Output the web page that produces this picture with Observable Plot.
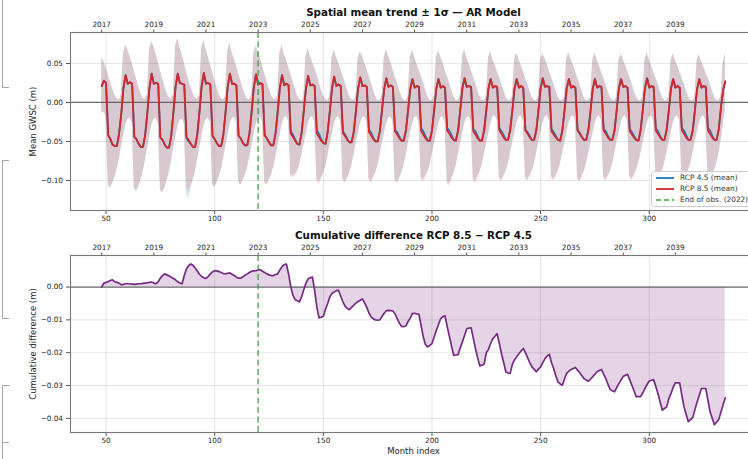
<!DOCTYPE html>
<html><head><meta charset="utf-8">
<script src="https://cdn.jsdelivr.net/npm/d3@7"></script>
<script src="https://cdn.jsdelivr.net/npm/@observablehq/plot@0.6"></script>
<style>
html,body{margin:0;padding:0;background:#fff;overflow:hidden;}
#wrap{position:relative;width:748px;height:459px;overflow:hidden;font-family:"DejaVu Sans",sans-serif;background:#fff;}
#top,#bot{position:absolute;left:0;width:757px;}
#top{top:0;} #bot{top:224px;}
#legend{position:absolute;left:651px;top:171px;width:110px;height:36px;background:rgba(255,255,255,0.85);border:1px solid #cfcfcf;border-radius:3px;box-sizing:border-box;}
.lrow{position:absolute;left:3px;height:10px;font-size:7.4px;color:#333;white-space:nowrap;line-height:10px;}
.lrow svg{position:absolute;left:0;top:0;}
.lrow span{position:absolute;left:25px;top:0;}
.art{position:absolute;border-color:#a8a8a8;border-style:solid;border-width:0;}
</style></head><body>
<div id="wrap">
  <div id="top"></div>
  <div id="bot"></div>
  <div id="legend"></div>
  <div class="art" style="left:2px;top:-3px;width:6px;height:90px;border-left-width:1.5px;border-bottom-width:1.5px;"></div>
  <div class="art" style="left:2px;top:160px;width:6px;height:157px;border-left-width:1.5px;border-top-width:1.5px;border-bottom-width:1.5px;"></div>
  <div class="art" style="left:2px;top:385px;width:7px;height:80px;border-left-width:1.5px;border-top-width:1.5px;"></div>
  <div class="art" style="left:2px;top:442px;width:7px;height:0;border-top-width:1.5px;"></div>
</div>
<script>
// ---------- data ----------
const firstMonth = 48;
const obsEndMonth = 120;
const xTicks = [50, 100, 150, 200, 250, 300];
const yearLabels = [2017, 2019, 2021, 2023, 2025, 2027, 2029, 2031, 2033, 2035, 2037, 2039];
const yearTickMonths = [48, 72, 96, 120, 144, 168, 192, 216, 240, 264, 288, 312];
const topYTicks = [-0.10, -0.05, 0.00, 0.05];
const botYTicks = [-0.04, -0.03, -0.02, -0.01, 0.00];
const legendLabels = ["RCP 4.5 (mean)", "RCP 8.5 (mean)", "End of obs. (2022)"];
const topTitle = "Spatial mean trend ± 1σ — AR Model";
const botTitle = "Cumulative difference RCP 8.5 − RCP 4.5";
const topYLabel = "Mean GWSC (m)";
const botYLabel = "Cumulative difference (m)";
const xLabel = "Month index";

// RCP 8.5 mean (one row per year, Jan..Dec, 2017..2040)
const rcp85Mean = [
 [0.021,0.028,0.025,-0.042,-0.047,-0.054,-0.056,-0.056,-0.040,-0.015,0.018,0.035],
 [0.024,0.026,0.024,-0.044,-0.047,-0.053,-0.057,-0.057,-0.042,-0.014,0.019,0.037],
 [0.024,0.025,0.024,-0.045,-0.048,-0.054,-0.058,-0.058,-0.043,-0.013,0.020,0.037],
 [0.025,0.024,0.023,-0.044,-0.048,-0.053,-0.057,-0.057,-0.041,-0.012,0.021,0.038],
 [0.024,0.025,0.023,-0.043,-0.047,-0.052,-0.056,-0.056,-0.041,-0.013,0.020,0.037],
 [0.024,0.024,0.022,-0.043,-0.046,-0.052,-0.055,-0.055,-0.040,-0.012,0.019,0.036],
 [0.023,0.025,0.023,-0.042,-0.046,-0.051,-0.055,-0.055,-0.040,-0.012,0.019,0.035],
 [0.022,0.024,0.022,-0.040,-0.044,-0.049,-0.053,-0.054,-0.039,-0.011,0.018,0.034],
 [0.022,0.023,0.021,-0.040,-0.044,-0.049,-0.052,-0.053,-0.038,-0.011,0.018,0.033],
 [0.021,0.023,0.021,-0.039,-0.043,-0.048,-0.051,-0.051,-0.038,-0.011,0.018,0.032],
 [0.021,0.022,0.020,-0.038,-0.042,-0.047,-0.050,-0.050,-0.037,-0.010,0.017,0.031],
 [0.020,0.022,0.020,-0.037,-0.041,-0.046,-0.049,-0.049,-0.036,-0.010,0.017,0.030],
 [0.019,0.021,0.020,-0.037,-0.041,-0.046,-0.049,-0.049,-0.036,-0.010,0.018,0.030],
 [0.019,0.021,0.019,-0.036,-0.040,-0.045,-0.048,-0.049,-0.036,-0.010,0.018,0.031],
 [0.020,0.021,0.020,-0.037,-0.041,-0.046,-0.049,-0.049,-0.036,-0.010,0.018,0.030],
 [0.019,0.021,0.020,-0.036,-0.040,-0.045,-0.048,-0.048,-0.035,-0.010,0.018,0.030],
 [0.019,0.021,0.019,-0.036,-0.040,-0.045,-0.048,-0.048,-0.036,-0.010,0.018,0.031],
 [0.020,0.021,0.020,-0.037,-0.041,-0.045,-0.048,-0.049,-0.036,-0.010,0.018,0.030],
 [0.019,0.021,0.019,-0.036,-0.040,-0.045,-0.048,-0.048,-0.035,-0.010,0.018,0.030],
 [0.019,0.021,0.020,-0.036,-0.040,-0.045,-0.048,-0.048,-0.036,-0.010,0.018,0.030],
 [0.020,0.021,0.019,-0.037,-0.041,-0.045,-0.048,-0.049,-0.036,-0.010,0.018,0.031],
 [0.019,0.021,0.020,-0.036,-0.040,-0.045,-0.048,-0.048,-0.035,-0.010,0.018,0.030],
 [0.019,0.021,0.019,-0.036,-0.040,-0.045,-0.048,-0.048,-0.036,-0.010,0.017,0.030],
 [0.019,0.021,0.020,-0.036,-0.040,-0.045,-0.048,-0.048,-0.034,-0.006,0.016,0.027]
].flat();

// RCP 4.5 mean
const rcp45Mean = [
 [0.021,0.028,0.025,-0.042,-0.047,-0.054,-0.056,-0.056,-0.040,-0.015,0.018,0.035],
 [0.024,0.026,0.024,-0.044,-0.047,-0.053,-0.057,-0.057,-0.042,-0.014,0.019,0.037],
 [0.024,0.025,0.024,-0.045,-0.048,-0.054,-0.058,-0.058,-0.043,-0.013,0.020,0.037],
 [0.025,0.024,0.023,-0.046,-0.050,-0.053,-0.057,-0.057,-0.041,-0.012,0.021,0.038],
 [0.024,0.025,0.023,-0.043,-0.047,-0.052,-0.056,-0.056,-0.041,-0.013,0.020,0.037],
 [0.024,0.024,0.022,-0.043,-0.046,-0.052,-0.055,-0.055,-0.040,-0.012,0.019,0.036],
 [0.023,0.025,0.023,-0.042,-0.046,-0.051,-0.055,-0.055,-0.040,-0.012,0.019,0.035],
 [0.022,0.024,0.022,-0.037,-0.041,-0.047,-0.053,-0.054,-0.039,-0.011,0.018,0.034],
 [0.022,0.023,0.021,-0.036,-0.040,-0.047,-0.052,-0.053,-0.038,-0.011,0.018,0.033],
 [0.021,0.023,0.021,-0.037,-0.041,-0.047,-0.051,-0.051,-0.038,-0.011,0.018,0.032],
 [0.021,0.022,0.020,-0.035,-0.039,-0.045,-0.050,-0.050,-0.037,-0.010,0.017,0.031],
 [0.020,0.022,0.020,-0.035,-0.038,-0.044,-0.049,-0.049,-0.036,-0.010,0.017,0.030],
 [0.019,0.021,0.020,-0.033,-0.037,-0.043,-0.049,-0.049,-0.036,-0.010,0.018,0.030],
 [0.019,0.021,0.019,-0.033,-0.036,-0.042,-0.048,-0.049,-0.036,-0.010,0.018,0.031],
 [0.020,0.021,0.020,-0.034,-0.037,-0.043,-0.049,-0.049,-0.036,-0.010,0.018,0.030],
 [0.019,0.021,0.020,-0.033,-0.037,-0.042,-0.048,-0.048,-0.035,-0.010,0.018,0.030],
 [0.019,0.021,0.019,-0.035,-0.038,-0.043,-0.048,-0.048,-0.036,-0.010,0.018,0.031],
 [0.020,0.021,0.020,-0.034,-0.038,-0.043,-0.048,-0.049,-0.036,-0.010,0.018,0.030],
 [0.019,0.021,0.019,-0.035,-0.039,-0.044,-0.048,-0.048,-0.035,-0.010,0.018,0.030],
 [0.019,0.021,0.020,-0.034,-0.037,-0.043,-0.048,-0.048,-0.036,-0.010,0.018,0.030],
 [0.020,0.021,0.019,-0.034,-0.038,-0.043,-0.048,-0.049,-0.036,-0.010,0.018,0.031],
 [0.019,0.021,0.020,-0.033,-0.037,-0.043,-0.048,-0.048,-0.035,-0.010,0.018,0.030],
 [0.019,0.021,0.019,-0.033,-0.036,-0.042,-0.048,-0.048,-0.036,-0.010,0.017,0.030],
 [0.019,0.021,0.020,-0.033,-0.036,-0.043,-0.048,-0.048,-0.034,-0.006,0.016,0.027]
].flat();

// ±1σ band edges, RCP 8.5 (upper / lower)
const rcp85Upper = [
 [0.057,0.052,0.045,0.036,0.027,0.018,0.010,0.005,0.003,0.010,0.062,0.073],
 [0.068,0.060,0.050,0.040,0.030,0.020,0.012,0.006,0.004,0.010,0.068,0.078],
 [0.072,0.062,0.052,0.041,0.031,0.021,0.012,0.006,0.004,0.011,0.072,0.082],
 [0.070,0.061,0.051,0.040,0.030,0.020,0.012,0.006,0.004,0.010,0.069,0.079],
 [0.068,0.059,0.049,0.039,0.029,0.019,0.011,0.005,0.003,0.009,0.066,0.076],
 [0.064,0.056,0.047,0.037,0.028,0.018,0.010,0.005,0.003,0.009,0.063,0.072],
 [0.065,0.057,0.047,0.037,0.028,0.018,0.010,0.005,0.003,0.009,0.064,0.073],
 [0.062,0.054,0.045,0.035,0.026,0.017,0.009,0.004,0.002,0.008,0.060,0.069],
 [0.060,0.052,0.044,0.034,0.025,0.016,0.009,0.004,0.002,0.008,0.058,0.067],
 [0.058,0.051,0.043,0.033,0.025,0.016,0.008,0.004,0.002,0.008,0.057,0.065],
 [0.059,0.051,0.043,0.033,0.024,0.015,0.008,0.003,0.002,0.008,0.058,0.067],
 [0.060,0.052,0.043,0.033,0.024,0.015,0.008,0.003,0.002,0.008,0.058,0.067],
 [0.058,0.050,0.042,0.032,0.024,0.015,0.008,0.003,0.002,0.008,0.058,0.066],
 [0.059,0.051,0.042,0.032,0.024,0.015,0.008,0.003,0.002,0.008,0.059,0.068],
 [0.057,0.050,0.041,0.032,0.023,0.015,0.008,0.003,0.002,0.008,0.057,0.065],
 [0.055,0.048,0.040,0.031,0.023,0.014,0.007,0.003,0.002,0.007,0.055,0.063],
 [0.055,0.048,0.040,0.031,0.023,0.014,0.007,0.003,0.002,0.007,0.055,0.062],
 [0.056,0.049,0.040,0.031,0.023,0.014,0.007,0.003,0.002,0.007,0.056,0.064],
 [0.055,0.048,0.040,0.031,0.023,0.014,0.007,0.003,0.002,0.007,0.055,0.063],
 [0.054,0.047,0.039,0.030,0.022,0.014,0.007,0.003,0.002,0.007,0.054,0.062],
 [0.055,0.048,0.040,0.031,0.023,0.014,0.007,0.003,0.002,0.007,0.055,0.063],
 [0.054,0.047,0.039,0.030,0.022,0.014,0.007,0.003,0.002,0.007,0.054,0.062],
 [0.054,0.047,0.039,0.030,0.022,0.014,0.007,0.003,0.002,0.007,0.054,0.061],
 [0.053,0.046,0.038,0.030,0.022,0.014,0.007,0.003,0.002,0.008,0.050,0.064]
].flat();
const rcp85Lower = [
 [-0.014,-0.012,-0.018,-0.106,-0.110,-0.104,-0.096,-0.087,-0.074,-0.058,-0.044,-0.030],
 [-0.022,-0.020,-0.026,-0.110,-0.114,-0.108,-0.100,-0.090,-0.076,-0.060,-0.045,-0.030],
 [-0.022,-0.020,-0.026,-0.112,-0.116,-0.110,-0.101,-0.091,-0.077,-0.061,-0.046,-0.031],
 [-0.023,-0.021,-0.027,-0.110,-0.115,-0.108,-0.100,-0.090,-0.076,-0.060,-0.045,-0.030],
 [-0.022,-0.020,-0.026,-0.105,-0.109,-0.103,-0.096,-0.087,-0.074,-0.058,-0.044,-0.029],
 [-0.021,-0.019,-0.025,-0.102,-0.106,-0.100,-0.094,-0.085,-0.072,-0.057,-0.043,-0.029],
 [-0.021,-0.019,-0.025,-0.102,-0.106,-0.100,-0.094,-0.085,-0.072,-0.057,-0.043,-0.029],
 [-0.020,-0.018,-0.024,-0.094,-0.097,-0.094,-0.089,-0.081,-0.069,-0.055,-0.042,-0.028],
 [-0.020,-0.018,-0.024,-0.101,-0.105,-0.099,-0.092,-0.083,-0.070,-0.055,-0.042,-0.028],
 [-0.020,-0.018,-0.024,-0.100,-0.104,-0.098,-0.091,-0.082,-0.069,-0.055,-0.041,-0.028],
 [-0.020,-0.018,-0.024,-0.100,-0.104,-0.098,-0.091,-0.082,-0.069,-0.054,-0.041,-0.028],
 [-0.020,-0.018,-0.024,-0.101,-0.105,-0.099,-0.091,-0.082,-0.069,-0.054,-0.041,-0.028],
 [-0.020,-0.018,-0.024,-0.099,-0.103,-0.097,-0.090,-0.081,-0.068,-0.054,-0.041,-0.028],
 [-0.020,-0.018,-0.024,-0.104,-0.108,-0.100,-0.092,-0.082,-0.069,-0.054,-0.041,-0.028],
 [-0.020,-0.018,-0.024,-0.100,-0.104,-0.098,-0.090,-0.081,-0.068,-0.054,-0.041,-0.028],
 [-0.019,-0.017,-0.023,-0.098,-0.102,-0.096,-0.089,-0.080,-0.067,-0.053,-0.040,-0.027],
 [-0.019,-0.017,-0.023,-0.097,-0.101,-0.096,-0.089,-0.080,-0.067,-0.053,-0.040,-0.027],
 [-0.019,-0.017,-0.023,-0.097,-0.101,-0.096,-0.089,-0.080,-0.067,-0.053,-0.040,-0.027],
 [-0.019,-0.017,-0.023,-0.098,-0.102,-0.096,-0.089,-0.080,-0.067,-0.053,-0.040,-0.027],
 [-0.019,-0.017,-0.023,-0.097,-0.101,-0.096,-0.089,-0.080,-0.067,-0.053,-0.040,-0.027],
 [-0.019,-0.017,-0.023,-0.097,-0.101,-0.095,-0.088,-0.079,-0.067,-0.053,-0.040,-0.027],
 [-0.019,-0.017,-0.023,-0.096,-0.100,-0.095,-0.088,-0.079,-0.066,-0.052,-0.040,-0.027],
 [-0.019,-0.017,-0.023,-0.097,-0.101,-0.095,-0.088,-0.079,-0.066,-0.052,-0.040,-0.027],
 [-0.019,-0.017,-0.023,-0.096,-0.100,-0.095,-0.088,-0.079,-0.066,-0.050,-0.030,-0.010]
].flat();

// ±1σ band edges, RCP 4.5 (upper / lower)
const rcp45Upper = [
 [0.057,0.052,0.045,0.036,0.027,0.018,0.010,0.005,0.003,0.010,0.062,0.073],
 [0.068,0.060,0.050,0.040,0.030,0.020,0.012,0.006,0.004,0.010,0.068,0.078],
 [0.072,0.062,0.052,0.041,0.031,0.021,0.012,0.006,0.004,0.011,0.072,0.082],
 [0.070,0.061,0.051,0.038,0.028,0.020,0.012,0.006,0.004,0.010,0.069,0.079],
 [0.068,0.059,0.049,0.039,0.029,0.019,0.011,0.005,0.003,0.009,0.066,0.076],
 [0.064,0.056,0.047,0.037,0.028,0.018,0.010,0.005,0.003,0.009,0.063,0.072],
 [0.065,0.057,0.047,0.037,0.028,0.018,0.010,0.005,0.003,0.009,0.064,0.073],
 [0.062,0.054,0.045,0.038,0.029,0.019,0.009,0.004,0.002,0.008,0.060,0.069],
 [0.060,0.052,0.044,0.038,0.029,0.018,0.009,0.004,0.002,0.008,0.058,0.067],
 [0.058,0.051,0.043,0.035,0.027,0.017,0.008,0.004,0.002,0.008,0.057,0.065],
 [0.059,0.051,0.043,0.036,0.027,0.017,0.008,0.003,0.002,0.008,0.058,0.067],
 [0.060,0.052,0.043,0.035,0.027,0.017,0.008,0.003,0.002,0.008,0.058,0.067],
 [0.058,0.050,0.042,0.036,0.028,0.018,0.008,0.003,0.002,0.008,0.058,0.066],
 [0.059,0.051,0.042,0.035,0.028,0.018,0.008,0.003,0.002,0.008,0.059,0.068],
 [0.057,0.050,0.041,0.035,0.027,0.018,0.008,0.003,0.002,0.008,0.057,0.065],
 [0.055,0.048,0.040,0.034,0.026,0.017,0.007,0.003,0.002,0.007,0.055,0.063],
 [0.055,0.048,0.040,0.032,0.025,0.016,0.007,0.003,0.002,0.007,0.055,0.062],
 [0.056,0.049,0.040,0.034,0.026,0.016,0.007,0.003,0.002,0.007,0.056,0.064],
 [0.055,0.048,0.040,0.032,0.024,0.015,0.007,0.003,0.002,0.007,0.055,0.063],
 [0.054,0.047,0.039,0.032,0.025,0.016,0.007,0.003,0.002,0.007,0.054,0.062],
 [0.055,0.048,0.040,0.034,0.026,0.016,0.007,0.003,0.002,0.007,0.055,0.063],
 [0.054,0.047,0.039,0.033,0.025,0.016,0.007,0.003,0.002,0.007,0.054,0.062],
 [0.054,0.047,0.039,0.033,0.026,0.017,0.007,0.003,0.002,0.007,0.054,0.061],
 [0.053,0.046,0.038,0.033,0.026,0.016,0.007,0.003,0.002,0.008,0.050,0.064]
].flat();
const rcp45Lower = [
 [-0.014,-0.012,-0.018,-0.106,-0.110,-0.104,-0.096,-0.087,-0.074,-0.058,-0.044,-0.030],
 [-0.022,-0.020,-0.026,-0.110,-0.114,-0.108,-0.100,-0.090,-0.076,-0.060,-0.045,-0.030],
 [-0.022,-0.020,-0.026,-0.112,-0.116,-0.110,-0.101,-0.091,-0.077,-0.061,-0.046,-0.031],
 [-0.023,-0.021,-0.027,-0.118,-0.123,-0.110,-0.100,-0.090,-0.076,-0.060,-0.045,-0.030],
 [-0.022,-0.020,-0.026,-0.105,-0.109,-0.103,-0.096,-0.087,-0.074,-0.058,-0.044,-0.029],
 [-0.021,-0.019,-0.025,-0.102,-0.106,-0.100,-0.094,-0.085,-0.072,-0.057,-0.043,-0.029],
 [-0.021,-0.019,-0.025,-0.102,-0.106,-0.100,-0.094,-0.085,-0.072,-0.057,-0.043,-0.029],
 [-0.020,-0.018,-0.024,-0.091,-0.094,-0.092,-0.089,-0.081,-0.069,-0.055,-0.042,-0.028],
 [-0.020,-0.018,-0.024,-0.097,-0.101,-0.097,-0.092,-0.083,-0.070,-0.055,-0.042,-0.028],
 [-0.020,-0.018,-0.024,-0.098,-0.102,-0.097,-0.091,-0.082,-0.069,-0.055,-0.041,-0.028],
 [-0.020,-0.018,-0.024,-0.097,-0.101,-0.096,-0.091,-0.082,-0.069,-0.054,-0.041,-0.028],
 [-0.020,-0.018,-0.024,-0.099,-0.102,-0.097,-0.091,-0.082,-0.069,-0.054,-0.041,-0.028],
 [-0.020,-0.018,-0.024,-0.095,-0.099,-0.094,-0.090,-0.081,-0.068,-0.054,-0.041,-0.028],
 [-0.020,-0.018,-0.024,-0.101,-0.104,-0.097,-0.092,-0.082,-0.069,-0.054,-0.041,-0.028],
 [-0.020,-0.018,-0.024,-0.097,-0.100,-0.095,-0.090,-0.081,-0.068,-0.054,-0.041,-0.028],
 [-0.019,-0.017,-0.023,-0.095,-0.099,-0.093,-0.089,-0.080,-0.067,-0.053,-0.040,-0.027],
 [-0.019,-0.017,-0.023,-0.096,-0.099,-0.094,-0.089,-0.080,-0.067,-0.053,-0.040,-0.027],
 [-0.019,-0.017,-0.023,-0.094,-0.098,-0.094,-0.089,-0.080,-0.067,-0.053,-0.040,-0.027],
 [-0.019,-0.017,-0.023,-0.097,-0.101,-0.095,-0.089,-0.080,-0.067,-0.053,-0.040,-0.027],
 [-0.019,-0.017,-0.023,-0.095,-0.098,-0.094,-0.089,-0.080,-0.067,-0.053,-0.040,-0.027],
 [-0.019,-0.017,-0.023,-0.094,-0.098,-0.093,-0.088,-0.079,-0.067,-0.053,-0.040,-0.027],
 [-0.019,-0.017,-0.023,-0.093,-0.097,-0.093,-0.088,-0.079,-0.066,-0.052,-0.040,-0.027],
 [-0.019,-0.017,-0.023,-0.094,-0.097,-0.092,-0.088,-0.079,-0.066,-0.052,-0.040,-0.027],
 [-0.019,-0.017,-0.023,-0.093,-0.096,-0.093,-0.088,-0.079,-0.066,-0.050,-0.030,-0.010]
].flat();

// Cumulative difference RCP 8.5 − RCP 4.5 (m), Jan..Dec, 2017..2040
const cumDiff = [
 [0.0000,0.0012,0.0014,0.0017,0.0020,0.0022,0.0016,0.0014,0.0012,0.0007,0.0008,0.0010],
 [0.0010,0.0010,0.0009,0.0008,0.0009,0.0010,0.0010,0.0011,0.0012,0.0013,0.0014,0.0015],
 [0.0012,0.0010,0.0016,0.0027,0.0035,0.0040,0.0037,0.0034,0.0030,0.0026,0.0022,0.0016],
 [0.0012,0.0010,0.0035,0.0055,0.0065,0.0070,0.0066,0.0058,0.0049,0.0039,0.0032,0.0028],
 [0.0026,0.0032,0.0040,0.0046,0.0050,0.0049,0.0047,0.0044,0.0041,0.0040,0.0042,0.0043],
 [0.0039,0.0035,0.0030,0.0027,0.0027,0.0031,0.0036,0.0040,0.0044,0.0048,0.0049,0.0050],
 [0.0052,0.0053,0.0048,0.0044,0.0040,0.0037,0.0035,0.0035,0.0038,0.0040,0.0052,0.0062],
 [0.0068,0.0070,0.0040,0.0002,-0.0025,-0.0038,-0.0042,-0.0045,-0.0030,-0.0008,0.0012,0.0025],
 [0.0028,0.0030,-0.0010,-0.0060,-0.0094,-0.0092,-0.0089,-0.0068,-0.0050,-0.0030,-0.0019,-0.0015],
 [-0.0011,-0.0010,-0.0028,-0.0045,-0.0058,-0.0065,-0.0069,-0.0062,-0.0055,-0.0049,-0.0044,-0.0040],
 [-0.0036,-0.0048,-0.0062,-0.0079,-0.0091,-0.0097,-0.0100,-0.0101,-0.0100,-0.0090,-0.0080,-0.0072],
 [-0.0071,-0.0072,-0.0073,-0.0082,-0.0096,-0.0110,-0.0120,-0.0121,-0.0118,-0.0105,-0.0095,-0.0080],
 [-0.0080,-0.0082,-0.0083,-0.0118,-0.0152,-0.0175,-0.0182,-0.0178,-0.0172,-0.0152,-0.0132,-0.0114],
 [-0.0096,-0.0090,-0.0088,-0.0120,-0.0150,-0.0180,-0.0208,-0.0207,-0.0206,-0.0186,-0.0167,-0.0147],
 [-0.0127,-0.0125,-0.0124,-0.0155,-0.0187,-0.0215,-0.0240,-0.0238,-0.0235,-0.0200,-0.0190,-0.0172],
 [-0.0157,-0.0150,-0.0142,-0.0172,-0.0203,-0.0230,-0.0258,-0.0262,-0.0263,-0.0235,-0.0222,-0.0212],
 [-0.0203,-0.0195,-0.0187,-0.0200,-0.0215,-0.0230,-0.0243,-0.0250,-0.0258,-0.0250,-0.0243,-0.0230],
 [-0.0218,-0.0210,-0.0205,-0.0230,-0.0248,-0.0270,-0.0289,-0.0295,-0.0299,-0.0280,-0.0263,-0.0256],
 [-0.0251,-0.0248,-0.0245,-0.0253,-0.0261,-0.0270,-0.0279,-0.0283,-0.0287,-0.0280,-0.0273,-0.0265],
 [-0.0258,-0.0254,-0.0251,-0.0265,-0.0279,-0.0296,-0.0312,-0.0316,-0.0319,-0.0306,-0.0294,-0.0283],
 [-0.0272,-0.0269,-0.0266,-0.0282,-0.0299,-0.0316,-0.0334,-0.0334,-0.0334,-0.0322,-0.0309,-0.0297],
 [-0.0286,-0.0284,-0.0282,-0.0303,-0.0324,-0.0350,-0.0375,-0.0370,-0.0365,-0.0340,-0.0324,-0.0305],
 [-0.0292,-0.0292,-0.0292,-0.0330,-0.0365,-0.0388,-0.0410,-0.0404,-0.0397,-0.0374,-0.0350,-0.0330],
 [-0.0309,-0.0309,-0.0309,-0.0345,-0.0380,-0.0400,-0.0419,-0.0411,-0.0403,-0.0380,-0.0358,-0.0337]
].flat();

// ---------- build ----------
const months = d3.range(firstMonth, firstMonth + rcp85Mean.length);
const d45 = months.map((m, i) => ({m, y: rcp45Mean[i], lo: rcp45Lower[i], hi: rcp45Upper[i]}));
const d85 = months.map((m, i) => ({m, y: rcp85Mean[i], lo: rcp85Lower[i], hi: rcp85Upper[i]}));
const dCum = months.map((m, i) => ({m, v: cumDiff[i]}));

const C45 = "#1f77b4", C85 = "#d62728", CGREEN = "#2ca02c", CPURP = "#762a83";
const fmt = d => (d < 0 ? "\u2212" : "") + Math.abs(d).toFixed(2);
const yearFmt = d => String(yearLabels[yearTickMonths.indexOf(d)]);
const W = 757;
const xDomain = [33.65, 349.35];
const style = {fontFamily: "DejaVu Sans, sans-serif", fontSize: "7.3px", color: "#262626", background: "transparent", maxWidth: "none", overflow: "visible"};
const gridOpts = {stroke: "#b0b0b0", strokeOpacity: 0.4, strokeWidth: 0.8};

function common(yTicks, title, yLabel) {
  return [
    Plot.axisX(xTicks, {anchor: "bottom", tickSize: 4, tickPadding: 1.5, label: null, stroke: "#555"}),
    Plot.axisX(yearTickMonths, {anchor: "top", tickSize: 3.5, tickPadding: 2, tickFormat: yearFmt, label: null, stroke: "#555"}),
    Plot.axisY(yTicks, {anchor: "left", tickSize: 4, tickPadding: 3.5, tickFormat: fmt, label: null, stroke: "#555"}),
    Plot.frame({stroke: "#777", strokeWidth: 1.1}),
    Plot.text([title], {text: d => d, frameAnchor: "top", lineAnchor: "middle", dy: -20, fontWeight: "bold", fontSize: 10.3, fill: "#111"}),
    Plot.text([yLabel], {text: d => d, frameAnchor: "left", lineAnchor: "middle", dx: -37, rotate: -90, textAnchor: "middle", fontSize: 8.5, fill: "#262626"})
  ];
}

const topPlot = Plot.plot({
  width: W, height: 224,
  marginLeft: 70, marginRight: 1, marginTop: 32, marginBottom: 14,
  style,
  x: {domain: xDomain},
  y: {domain: [-0.1385, 0.0897]},
  marks: [
    Plot.gridX(xTicks, gridOpts),
    Plot.gridY(topYTicks, gridOpts),
    Plot.areaY(d45, {x: "m", y1: "lo", y2: "hi", fill: C45, fillOpacity: 0.17}),
    Plot.areaY(d85, {x: "m", y1: "lo", y2: "hi", fill: C85, fillOpacity: 0.17}),
    Plot.ruleY([0], {stroke: "#555", strokeWidth: 1.2, strokeOpacity: 0.85}),
    Plot.lineY(d45, {x: "m", y: "y", stroke: C45, strokeWidth: 1.8}),
    Plot.lineY(d85, {x: "m", y: "y", stroke: C85, strokeWidth: 1.8}),
    Plot.ruleX([obsEndMonth], {stroke: CGREEN, strokeOpacity: 0.7, strokeWidth: 1.7, strokeDasharray: "6,3.5"}),
    ...common(topYTicks, topTitle, topYLabel)
  ]
});
document.getElementById("top").appendChild(topPlot);

const botPlot = Plot.plot({
  width: W, height: 235,
  marginLeft: 70, marginRight: 1, marginTop: 31, marginBottom: 27,
  style,
  x: {domain: xDomain},
  y: {domain: [-0.0443, 0.0096]},
  marks: [
    Plot.gridX(xTicks, gridOpts),
    Plot.gridY(botYTicks, gridOpts),
    Plot.areaY(dCum, {x: "m", y: "v", fill: CPURP, fillOpacity: 0.2}),
    Plot.ruleY([0], {stroke: "#555", strokeWidth: 1.2, strokeOpacity: 0.85}),
    Plot.lineY(dCum, {x: "m", y: "v", stroke: CPURP, strokeWidth: 1.7}),
    Plot.ruleX([obsEndMonth], {stroke: CGREEN, strokeOpacity: 0.7, strokeWidth: 1.7, strokeDasharray: "6,3.5"}),
    ...common(botYTicks, botTitle, botYLabel),
    Plot.text([xLabel], {text: d => d, frameAnchor: "bottom", lineAnchor: "middle", dy: 19, fontSize: 8.5, fill: "#262626"})
  ]
});
document.getElementById("bot").appendChild(botPlot);

// legend
const legendColors = [C45, C85, CGREEN];
const legendDash = [null, null, "5,3"];
const legendTops = [0, 11, 22.5];
const leg = document.getElementById("legend");
legendLabels.forEach((lab, i) => {
  const row = document.createElement("div");
  row.className = "lrow";
  row.style.top = (legendTops[i] + 0.5) + "px";
  const dash = legendDash[i] ? ` stroke-dasharray="${legendDash[i]}" stroke-opacity="0.7"` : "";
  row.innerHTML = `<svg width="20" height="10"><line x1="1" x2="19" y1="5" y2="5" stroke="${legendColors[i]}" stroke-width="1.8"${dash}/></svg><span>${lab}</span>`;
  leg.appendChild(row);
});
</script>
</body></html>
